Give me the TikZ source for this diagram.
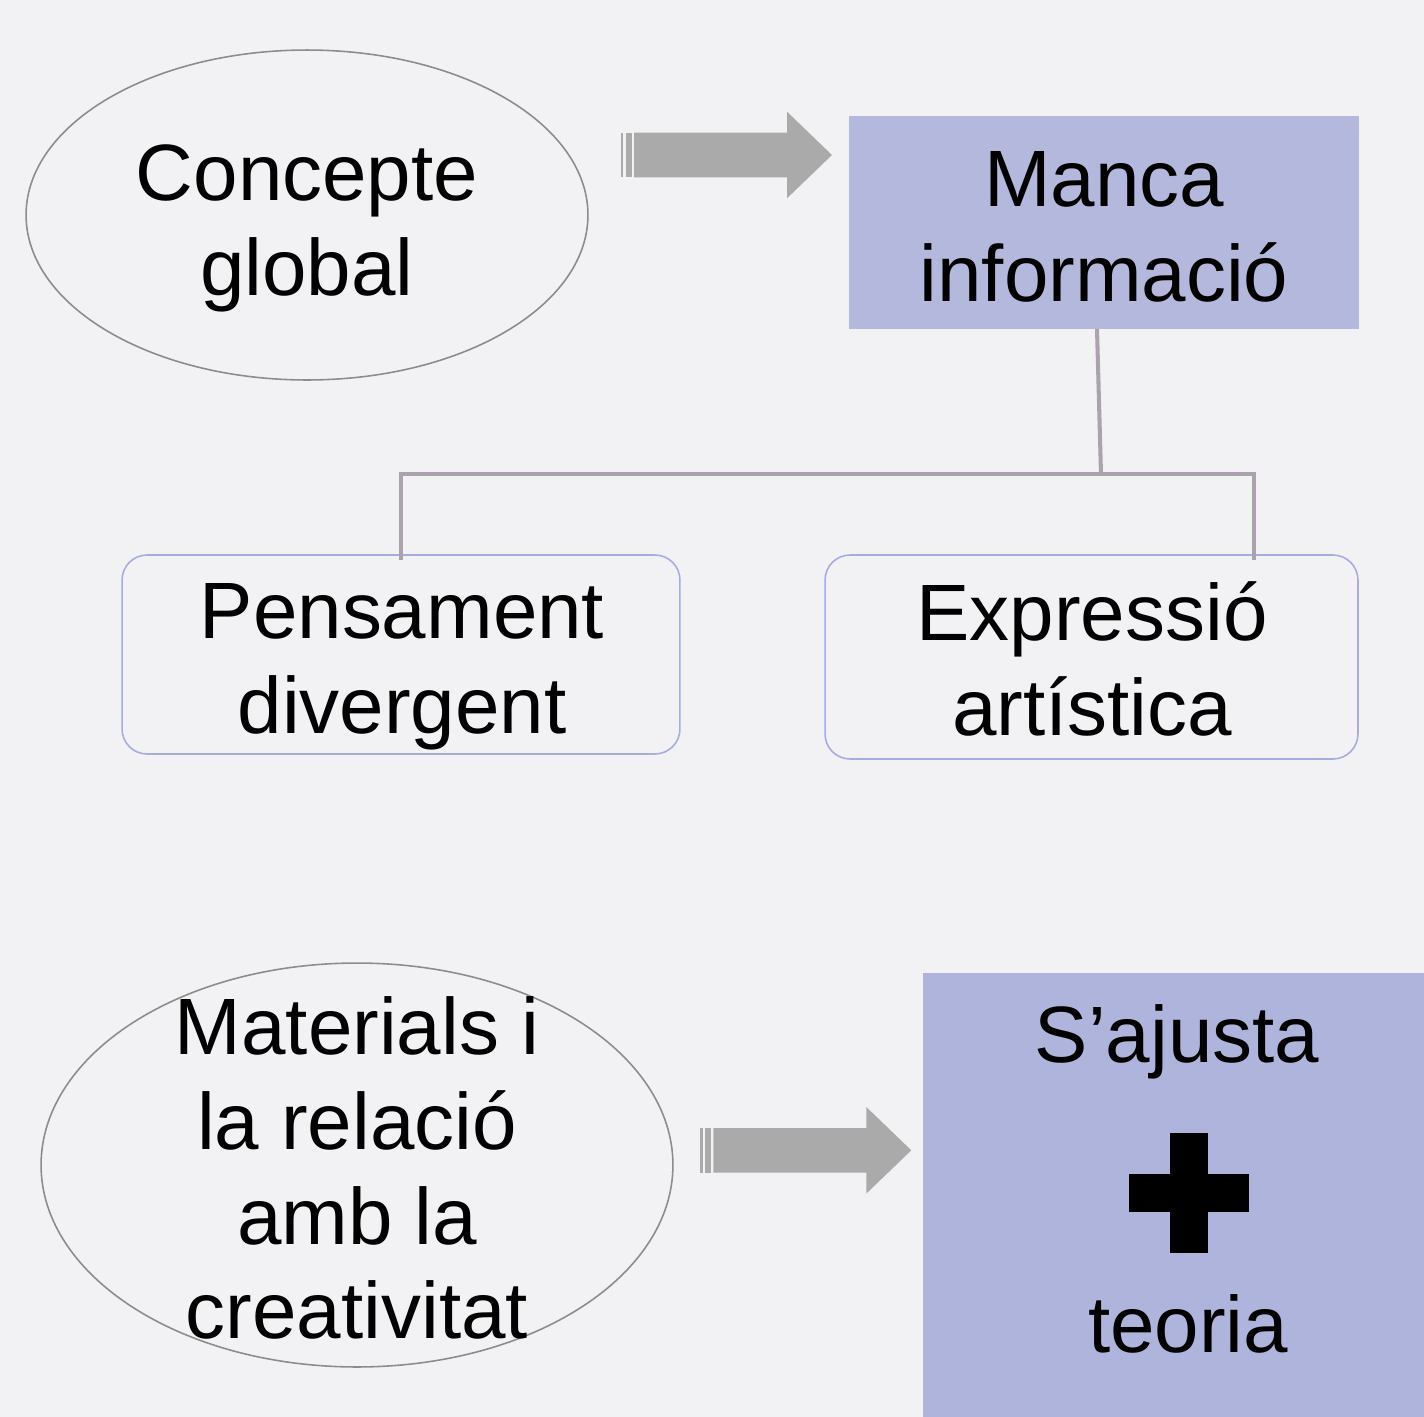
\documentclass[tikz,border=0pt]{standalone}
\usepackage{fontspec}
\setmainfont{Liberation Sans}
\usepackage{tikz}
\usetikzlibrary{shapes.geometric, calc}
\usepackage{xcolor}
\definecolor{fons}{RGB}{242,242,244}
\definecolor{lila}{RGB}{180,184,220}
\definecolor{lilafort}{RGB}{175,180,220}
\definecolor{voralila}{RGB}{166,172,226}
\definecolor{voragris}{RGB}{140,140,140}
\definecolor{enllacgris}{RGB}{170,162,172}
\definecolor{fletxagris}{RGB}{170,170,170}
\tikzset{
    globus/.style={ellipse, draw=voragris, line width=0.9pt, inner sep=0pt, outer sep=0pt},
    caixa/.style={rectangle, fill=lila, inner sep=0pt, outer sep=0pt},
    idea/.style={rectangle, rounded corners=0.5cm, draw=voralila, line width=0.9pt, inner sep=0pt, outer sep=0pt},
    lletra/.style={font=\fontsize{45.5}{54}\selectfont, align=center, inner sep=0pt},
    enllac/.style={draw=enllacgris, line width=2.3pt},
    fletxa/.style={fill=fletxagris}
}
\begin{document}
\begin{tikzpicture}[x=0.02cm, y=-0.02cm]
    \fill[fons] (0,0) rectangle (1424,1417);
    % part de dalt
    \node[globus, minimum width=11.24cm, minimum height=6.6cm] (concepte) at (307,215) {};
    \node[lletra] (tconcepte) at (307,228) {Concepte\\global};
    \node[caixa, minimum width=10.2cm, minimum height=4.26cm] (manca) at (1104,222.5) {};
    \node[lletra] (tmanca) at (1104,226.5) {Manca\\informació};
    \node[idea, minimum width=11.16cm, minimum height=3.98cm] (pensament) at (401,654.5) {};
    \node[lletra] (tpensament) at (402,667) {Pensament\\divergent};
    \node[idea, minimum width=10.66cm, minimum height=4.08cm] (expressio) at (1091.5,657) {};
    \node[lletra] (texpressio) at (1092,659) {Expressió\\artística};
    \coordinate (nus) at (1101,474);
    \draw[enllac] ($(manca.south)+(-7,0)$) -- (nus);
    \draw[enllac] ($(pensament.north)+(0,5)$) |- (nus) -| ($(expressio.north)+(162.5,5)$);
    % part de baix
    \node[globus, minimum width=12.64cm, minimum height=8.08cm] (materials) at (357,1165) {};
    \node[lletra] (tmaterials) at (357,1168) {Materials i\\la relació\\amb la\\creativitat};
    \node[caixa, fill=lilafort, minimum width=10.02cm, minimum height=8.88cm] (ajusta) at (1173.5,1195) {};
    \node[lletra, anchor=base] (tajusta) at (1177,1062) {S’ajusta};
    \node[lletra, anchor=base] (tteoria) at (1188,1352) {teoria};
    \fill (1170,1133) rectangle (1208,1253);
    \fill (1129,1174) rectangle (1249,1212);
    % fletxes
    \foreach \dx/\dy in {0/0, 79.3/995.3}{
        \begin{scope}[shift={(\dx,\dy)}]
            \fill[fletxa] (634,132.7) -- (787,132.7) -- (787,111.7) -- (832,155) -- (787,198.3) -- (787,177.3) -- (634,177.3) -- cycle;
            \fill[fletxa] (620.7,132.7) rectangle (623.3,177.3);
            \fill[fletxa] (626,132.7) rectangle (632,177.3);
        \end{scope}
    }
\end{tikzpicture}
\end{document}
